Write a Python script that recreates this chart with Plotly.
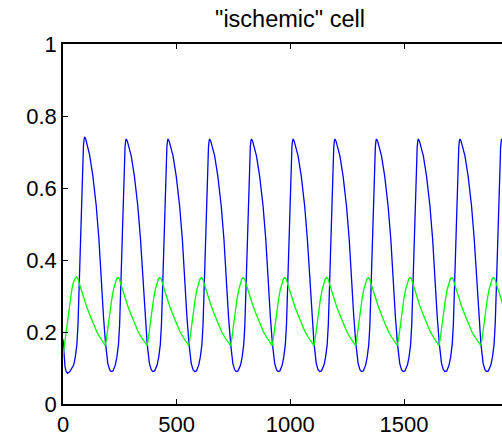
import plotly.graph_objects as go

# ---- data ----
blue_t = [0, 4, 9, 14, 20, 30, 38,
          47, 54, 61, 66, 71, 76, 81, 86, 90, 93, 95, 100, 107, 117, 131, 146, 158, 168, 178, 187, 197, 205, 212, 220,
          230, 237, 244, 249, 254, 259, 264, 269, 273, 276, 278, 283, 290, 300, 314, 329, 341, 351, 361, 370, 380, 388, 395, 403,
          414, 421, 428, 433, 438, 443, 448, 453, 457, 460, 462, 467, 474, 484, 498, 513, 525, 535, 545, 554, 564, 572, 579, 587,
          597, 604, 611, 616, 621, 626, 631, 636, 640, 643, 645, 650, 657, 667, 681, 696, 708, 718, 728, 737, 747, 755, 762, 770,
          781, 788, 795, 800, 805, 810, 815, 820, 824, 827, 829, 834, 841, 851, 865, 880, 892, 902, 912, 921, 931, 939, 946, 954,
          964, 971, 978, 983, 988, 993, 998, 1003, 1007, 1010, 1012, 1017, 1024, 1034, 1048, 1063, 1075, 1085, 1095, 1104, 1114, 1122, 1129, 1137,
          1148, 1155, 1162, 1167, 1172, 1177, 1182, 1187, 1191, 1194, 1196, 1201, 1208, 1218, 1232, 1247, 1259, 1269, 1279, 1288, 1298, 1306, 1313, 1321,
          1331, 1338, 1345, 1350, 1355, 1360, 1365, 1370, 1374, 1377, 1379, 1384, 1391, 1401, 1415, 1430, 1442, 1452, 1462, 1471, 1481, 1489, 1496, 1504,
          1515, 1522, 1529, 1534, 1539, 1544, 1549, 1554, 1558, 1561, 1563, 1568, 1575, 1585, 1599, 1614, 1626, 1636, 1646, 1655, 1665, 1673, 1680, 1688,
          1698, 1705, 1712, 1717, 1722, 1727, 1732, 1737, 1741, 1744, 1746, 1751, 1758, 1768, 1782, 1797, 1809, 1819, 1829, 1838, 1848, 1856, 1863, 1871,
          1882, 1889, 1896, 1901, 1906, 1911, 1916, 1921, 1925, 1928, 1930, 1935]

blue_v = [0.18, 0.135, 0.103, 0.09, 0.085, 0.09, 0.098,
          0.108, 0.13, 0.165, 0.22, 0.32, 0.44, 0.57, 0.67, 0.718, 0.736, 0.742, 0.736, 0.718, 0.692, 0.635, 0.552, 0.458, 0.345, 0.243, 0.169, 0.113, 0.095, 0.09, 0.092,
          0.108, 0.13, 0.165, 0.22, 0.32, 0.44, 0.57, 0.67, 0.715, 0.732, 0.736, 0.73, 0.713, 0.689, 0.633, 0.55, 0.457, 0.345, 0.243, 0.169, 0.113, 0.095, 0.09, 0.092,
          0.108, 0.13, 0.165, 0.22, 0.32, 0.44, 0.57, 0.67, 0.715, 0.732, 0.736, 0.73, 0.713, 0.689, 0.633, 0.55, 0.457, 0.345, 0.243, 0.169, 0.113, 0.095, 0.09, 0.092,
          0.108, 0.13, 0.165, 0.22, 0.32, 0.44, 0.57, 0.67, 0.715, 0.732, 0.736, 0.73, 0.713, 0.689, 0.633, 0.55, 0.457, 0.345, 0.243, 0.169, 0.113, 0.095, 0.09, 0.092,
          0.108, 0.13, 0.165, 0.22, 0.32, 0.44, 0.57, 0.67, 0.715, 0.732, 0.736, 0.73, 0.713, 0.689, 0.633, 0.55, 0.457, 0.345, 0.243, 0.169, 0.113, 0.095, 0.09, 0.092,
          0.108, 0.13, 0.165, 0.22, 0.32, 0.44, 0.57, 0.67, 0.715, 0.732, 0.736, 0.73, 0.713, 0.689, 0.633, 0.55, 0.457, 0.345, 0.243, 0.169, 0.113, 0.095, 0.09, 0.092,
          0.108, 0.13, 0.165, 0.22, 0.32, 0.44, 0.57, 0.67, 0.715, 0.732, 0.736, 0.73, 0.713, 0.689, 0.633, 0.55, 0.457, 0.345, 0.243, 0.169, 0.113, 0.095, 0.09, 0.092,
          0.108, 0.13, 0.165, 0.22, 0.32, 0.44, 0.57, 0.67, 0.715, 0.732, 0.736, 0.73, 0.713, 0.689, 0.633, 0.55, 0.457, 0.345, 0.243, 0.169, 0.113, 0.095, 0.09, 0.092,
          0.108, 0.13, 0.165, 0.22, 0.32, 0.44, 0.57, 0.67, 0.715, 0.732, 0.736, 0.73, 0.713, 0.689, 0.633, 0.55, 0.457, 0.345, 0.243, 0.169, 0.113, 0.095, 0.09, 0.092,
          0.108, 0.13, 0.165, 0.22, 0.32, 0.44, 0.57, 0.67, 0.715, 0.732, 0.736, 0.73, 0.713, 0.689, 0.633, 0.55, 0.457, 0.345, 0.243, 0.169, 0.113, 0.095, 0.09, 0.092,
          0.108, 0.13, 0.165, 0.22, 0.32, 0.44, 0.57, 0.67, 0.715, 0.732, 0.736, 0.73]

green_t = [0, 8, 16, 24, 31, 38, 45, 52, 60, 66, 74, 84, 94, 104, 119, 134, 149, 164, 176,
           186, 191, 198, 206, 214, 222, 230, 236, 242, 248, 256, 266, 276, 286, 301, 316, 331, 346, 358,
           370, 375, 382, 390, 398, 406, 414, 420, 426, 432, 440, 450, 460, 470, 485, 500, 515, 530, 542,
           553, 558, 565, 573, 581, 589, 597, 603, 609, 615, 623, 633, 643, 653, 668, 683, 698, 713, 725,
           737, 742, 749, 757, 765, 773, 781, 787, 793, 799, 807, 817, 827, 837, 852, 867, 882, 897, 909,
           920, 925, 932, 940, 948, 956, 964, 970, 976, 982, 990, 1000, 1010, 1020, 1035, 1050, 1065, 1080, 1092,
           1104, 1109, 1116, 1124, 1132, 1140, 1148, 1154, 1160, 1166, 1174, 1184, 1194, 1204, 1219, 1234, 1249, 1264, 1276,
           1287, 1292, 1299, 1307, 1315, 1323, 1331, 1337, 1343, 1349, 1357, 1367, 1377, 1387, 1402, 1417, 1432, 1447, 1459,
           1471, 1476, 1483, 1491, 1499, 1507, 1515, 1521, 1527, 1533, 1541, 1551, 1561, 1571, 1586, 1601, 1616, 1631, 1643,
           1654, 1659, 1666, 1674, 1682, 1690, 1698, 1704, 1710, 1716, 1724, 1734, 1744, 1754, 1769, 1784, 1799, 1814, 1826,
           1838, 1843, 1850, 1858, 1866, 1874, 1882, 1888, 1894, 1900, 1908, 1918, 1928, 1938]

green_v = [0.134, 0.175, 0.215, 0.255, 0.29, 0.315, 0.336, 0.348, 0.353, 0.347, 0.33, 0.308, 0.288, 0.27, 0.246, 0.222, 0.2, 0.184, 0.172,
           0.162, 0.18, 0.215, 0.255, 0.29, 0.318, 0.338, 0.348, 0.351, 0.347, 0.33, 0.308, 0.288, 0.27, 0.246, 0.222, 0.2, 0.184, 0.172,
           0.162, 0.18, 0.215, 0.255, 0.29, 0.318, 0.338, 0.348, 0.351, 0.347, 0.33, 0.308, 0.288, 0.27, 0.246, 0.222, 0.2, 0.184, 0.172,
           0.162, 0.18, 0.215, 0.255, 0.29, 0.318, 0.338, 0.348, 0.351, 0.347, 0.33, 0.308, 0.288, 0.27, 0.246, 0.222, 0.2, 0.184, 0.172,
           0.162, 0.18, 0.215, 0.255, 0.29, 0.318, 0.338, 0.348, 0.351, 0.347, 0.33, 0.308, 0.288, 0.27, 0.246, 0.222, 0.2, 0.184, 0.172,
           0.162, 0.18, 0.215, 0.255, 0.29, 0.318, 0.338, 0.348, 0.351, 0.347, 0.33, 0.308, 0.288, 0.27, 0.246, 0.222, 0.2, 0.184, 0.172,
           0.162, 0.18, 0.215, 0.255, 0.29, 0.318, 0.338, 0.348, 0.351, 0.347, 0.33, 0.308, 0.288, 0.27, 0.246, 0.222, 0.2, 0.184, 0.172,
           0.162, 0.18, 0.215, 0.255, 0.29, 0.318, 0.338, 0.348, 0.351, 0.347, 0.33, 0.308, 0.288, 0.27, 0.246, 0.222, 0.2, 0.184, 0.172,
           0.162, 0.18, 0.215, 0.255, 0.29, 0.318, 0.338, 0.348, 0.351, 0.347, 0.33, 0.308, 0.288, 0.27, 0.246, 0.222, 0.2, 0.184, 0.172,
           0.162, 0.18, 0.215, 0.255, 0.29, 0.318, 0.338, 0.348, 0.351, 0.347, 0.33, 0.308, 0.288, 0.27, 0.246, 0.222, 0.2, 0.184, 0.172,
           0.162, 0.18, 0.215, 0.255, 0.29, 0.318, 0.338, 0.348, 0.351, 0.347, 0.33, 0.308, 0.288, 0.27]

x_ticks = [0, 500, 1000, 1500, 2000]
y_ticks = [0, 0.2, 0.4, 0.6, 0.8, 1]
y_tick_text = ["0", "0.2", "0.4", "0.6", "0.8", "1"]
title_text = '"ischemic" cell'

fig = go.Figure()
fig.add_trace(go.Scatter(x=blue_t, y=blue_v, mode="lines",
                         line=dict(color="#0000ff", width=1.3), showlegend=False))
fig.add_trace(go.Scatter(x=green_t, y=green_v, mode="lines",
                         line=dict(color="#00ff00", width=1.3), showlegend=False))

font_family = "Liberation Sans, Arial, Helvetica, sans-serif"

fig.update_layout(
    width=502, height=438,
    margin=dict(l=63, r=0, t=44, b=34, pad=0, autoexpand=False),
    paper_bgcolor="white", plot_bgcolor="white",
    font=dict(family=font_family, size=22, color="black"),
    title=dict(text=title_text, x=(290 - 63) / 439, xref="paper", xanchor="center",
               y=1 - 19 / 438, yref="container", yanchor="middle",
               font=dict(family=font_family, size=23.5, color="black")),
)
fig.update_xaxes(range=[0, 1931], tickvals=x_ticks, ticks="inside", ticklen=5, tickwidth=1,
                 tickcolor="black", showline=True, linecolor="black", linewidth=1.6,
                 mirror="ticks", showgrid=False, zeroline=False,
                 tickfont=dict(size=22))
fig.update_yaxes(range=[0, 1], tickvals=y_ticks, ticktext=y_tick_text, ticks="inside", ticklen=5,
                 tickwidth=1, tickcolor="black", showline=True, linecolor="black", linewidth=1.6,
                 mirror=False, showgrid=False, zeroline=False,
                 tickfont=dict(size=22))

# remove the default page margin so the 502x438 figure fills the window exactly
fig.write_html(
    "out.html",
    config={"displayModeBar": False},
    post_script="document.body.style.margin='0';"
                "document.documentElement.style.overflow='hidden';"
                "document.body.style.overflow='hidden';",
)
